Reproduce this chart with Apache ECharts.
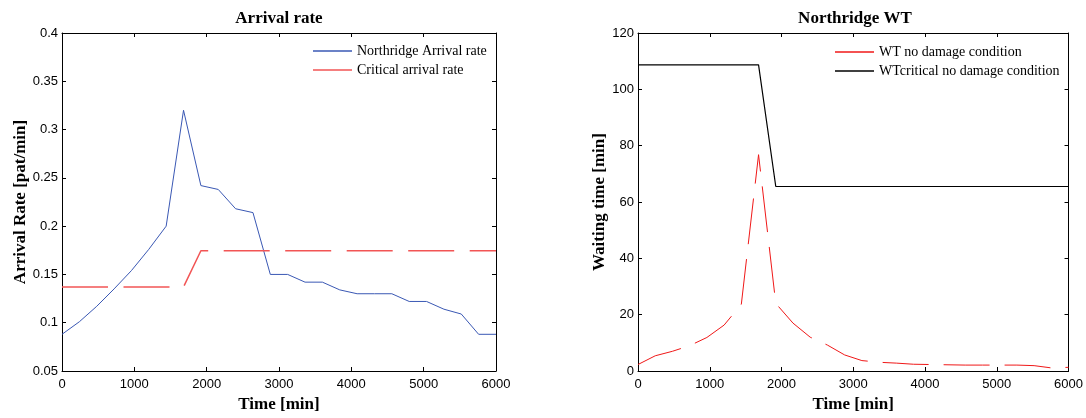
<!DOCTYPE html>
<html><head><meta charset="utf-8">
<script src="https://cdn.jsdelivr.net/npm/echarts@6/dist/echarts.min.js"></script>
<style>html,body{margin:0;padding:0;background:#fff}#c{width:1086px;height:418px}</style>
</head><body><div id="c"></div>
<script>
// ---- data ----
const timeMin = [0,240,480,720,960,1200,1440,1680,1920,2160,2400,2640,2880,3120,3360,3600,3840,4080,4320,4560,4800,5040,5280,5520,5760,6000];
const northridgeArrival = [0.088,0.101,0.117,0.135,0.154,0.176,0.200,0.320,0.242,0.238,0.218,0.214,0.150,0.150,0.142,0.142,0.134,0.130,0.130,0.130,0.122,0.122,0.114,0.109,0.088,0.088];
const criticalTimes = [0,1680,1920,6000];
const criticalArrival = [0.137,0.137,0.1745,0.1745];
const wtNoDamage = [2.3,5.4,7.0,9.0,11.9,16.3,23.7,76.8,24.0,17.0,12.0,9.2,5.7,3.7,3.1,2.8,2.4,2.3,2.2,2.1,2.1,2.1,2.1,1.9,1.1,1.3];
const wtCriticalTimes = [0,1680,1920,6000];
const wtCritical = [108.7,108.7,65.5,65.5];
const xRange = [0, 6000, 1000];
const yRangeArrival = [0.05, 0.4, 0.05];
const yRangeWT = [0, 120, 20];
const seriesNames = ['Northridge Arrival rate','Critical arrival rate','WT no damage condition','WTcritical no damage condition'];
const titles = ['Arrival rate','Northridge WT'];
const axisNames = ['Time [min]','Arrival Rate [pat/min]','Waiting time [min]'];

const pairs = (xs, ys) => xs.map((x, i) => [x, ys[i]]);
const SANS = "'Liberation Sans', Arial, sans-serif";
const SERIF = "'Liberation Serif', 'Times New Roman', serif";
const LINE_ICON = 'path://M0,0H39V1.3H0Z';

function xAx(grid, top, name) {
  return {
    type: 'value', gridIndex: grid, position: top ? 'top' : 'bottom',
    min: xRange[0], max: xRange[1], interval: xRange[2],
    axisLine: { show: true, onZero: false, lineStyle: { color: '#000', width: 1 } },
    axisTick: { show: true, inside: true, length: 4, lineStyle: { color: '#000' } },
    axisLabel: { show: !top, color: '#000', fontFamily: SANS, fontSize: 13, margin: 7, formatter: v => String(v) },
    splitLine: { show: false },
    name: top ? '' : name, nameLocation: 'middle', nameGap: 25,
    nameTextStyle: { color: '#000', fontFamily: SERIF, fontWeight: 'bold', fontSize: 17 }
  };
}
function yAx(grid, right, rng, name, gap, fmt) {
  return {
    type: 'value', gridIndex: grid, position: right ? 'right' : 'left',
    min: rng[0], max: rng[1], interval: rng[2],
    axisLine: { show: true, onZero: false, lineStyle: { color: '#000', width: 1 } },
    axisTick: { show: true, inside: true, length: 4, lineStyle: { color: '#000' } },
    axisLabel: { show: !right, color: '#000', fontFamily: SANS, fontSize: 13, margin: 4, formatter: fmt },
    splitLine: { show: false },
    name: right ? '' : name, nameLocation: 'middle', nameGap: gap, nameRotate: 90,
    nameTextStyle: { color: '#000', fontFamily: SERIF, fontWeight: 'bold', fontSize: 17 }
  };
}
function legendFor(names, left, top) {
  return {
    data: names, icon: LINE_ICON, symbolKeepAspect: true,
    orient: 'vertical', left: left, top: top, padding: 0,
    itemWidth: 39, itemHeight: 14, itemGap: 5, selectedMode: false,
    textStyle: { fontFamily: SERIF, fontSize: 14, color: '#000' }
  };
}

const chart = echarts.init(document.getElementById('c'), null, { renderer: 'canvas' });
chart.setOption({
  animation: false,
  backgroundColor: '#fff',
  title: [
    { text: titles[0], left: 279, top: 10, textAlign: 'center', padding: 0,
      textStyle: { fontFamily: SERIF, fontWeight: 'bold', fontSize: 17, color: '#000' } },
    { text: titles[1], left: 855, top: 10, textAlign: 'center', padding: 0,
      textStyle: { fontFamily: SERIF, fontWeight: 'bold', fontSize: 17, color: '#000' } }
  ],
  grid: [
    { left: 62, top: 33, width: 434, height: 342 },
    { left: 638, top: 33, width: 434, height: 342 }
  ],
  legend: [ legendFor([seriesNames[0], seriesNames[1]], 313, 44), legendFor([seriesNames[2], seriesNames[3]], 835, 45) ],
  xAxis: [ xAx(0, false, axisNames[0]), xAx(0, true), xAx(1, false, axisNames[0]), xAx(1, true) ],
  yAxis: [
    yAx(0, false, yRangeArrival, axisNames[1], 33, v => String(+v.toFixed(2))),
    yAx(0, true, yRangeArrival),
    yAx(1, false, yRangeWT, axisNames[2], 30, v => String(Math.round(v))),
    yAx(1, true, yRangeWT)
  ],
  series: [
    { name: seriesNames[0], type: 'line', xAxisIndex: 0, yAxisIndex: 0, data: pairs(timeMin, northridgeArrival),
      symbol: 'none', color: '#3a58b4', lineStyle: { color: '#3a58b4', width: 1 } },
    { name: seriesNames[1], type: 'line', xAxisIndex: 0, yAxisIndex: 0, data: pairs(criticalTimes, criticalArrival),
      symbol: 'none', color: '#f25555', lineStyle: { color: '#f25555', width: 1.5, type: [46, 15.5] } },
    { name: seriesNames[2], type: 'line', xAxisIndex: 2, yAxisIndex: 2, data: pairs(timeMin, wtNoDamage),
      symbol: 'none', color: '#f01818', lineStyle: { color: '#f01818', width: 1, type: [46, 15] } },
    { name: seriesNames[3], type: 'line', xAxisIndex: 2, yAxisIndex: 2, data: pairs(wtCriticalTimes, wtCritical),
      symbol: 'none', color: '#000', lineStyle: { color: '#000', width: 1.2 } }
  ]
});
</script>
</body></html>
